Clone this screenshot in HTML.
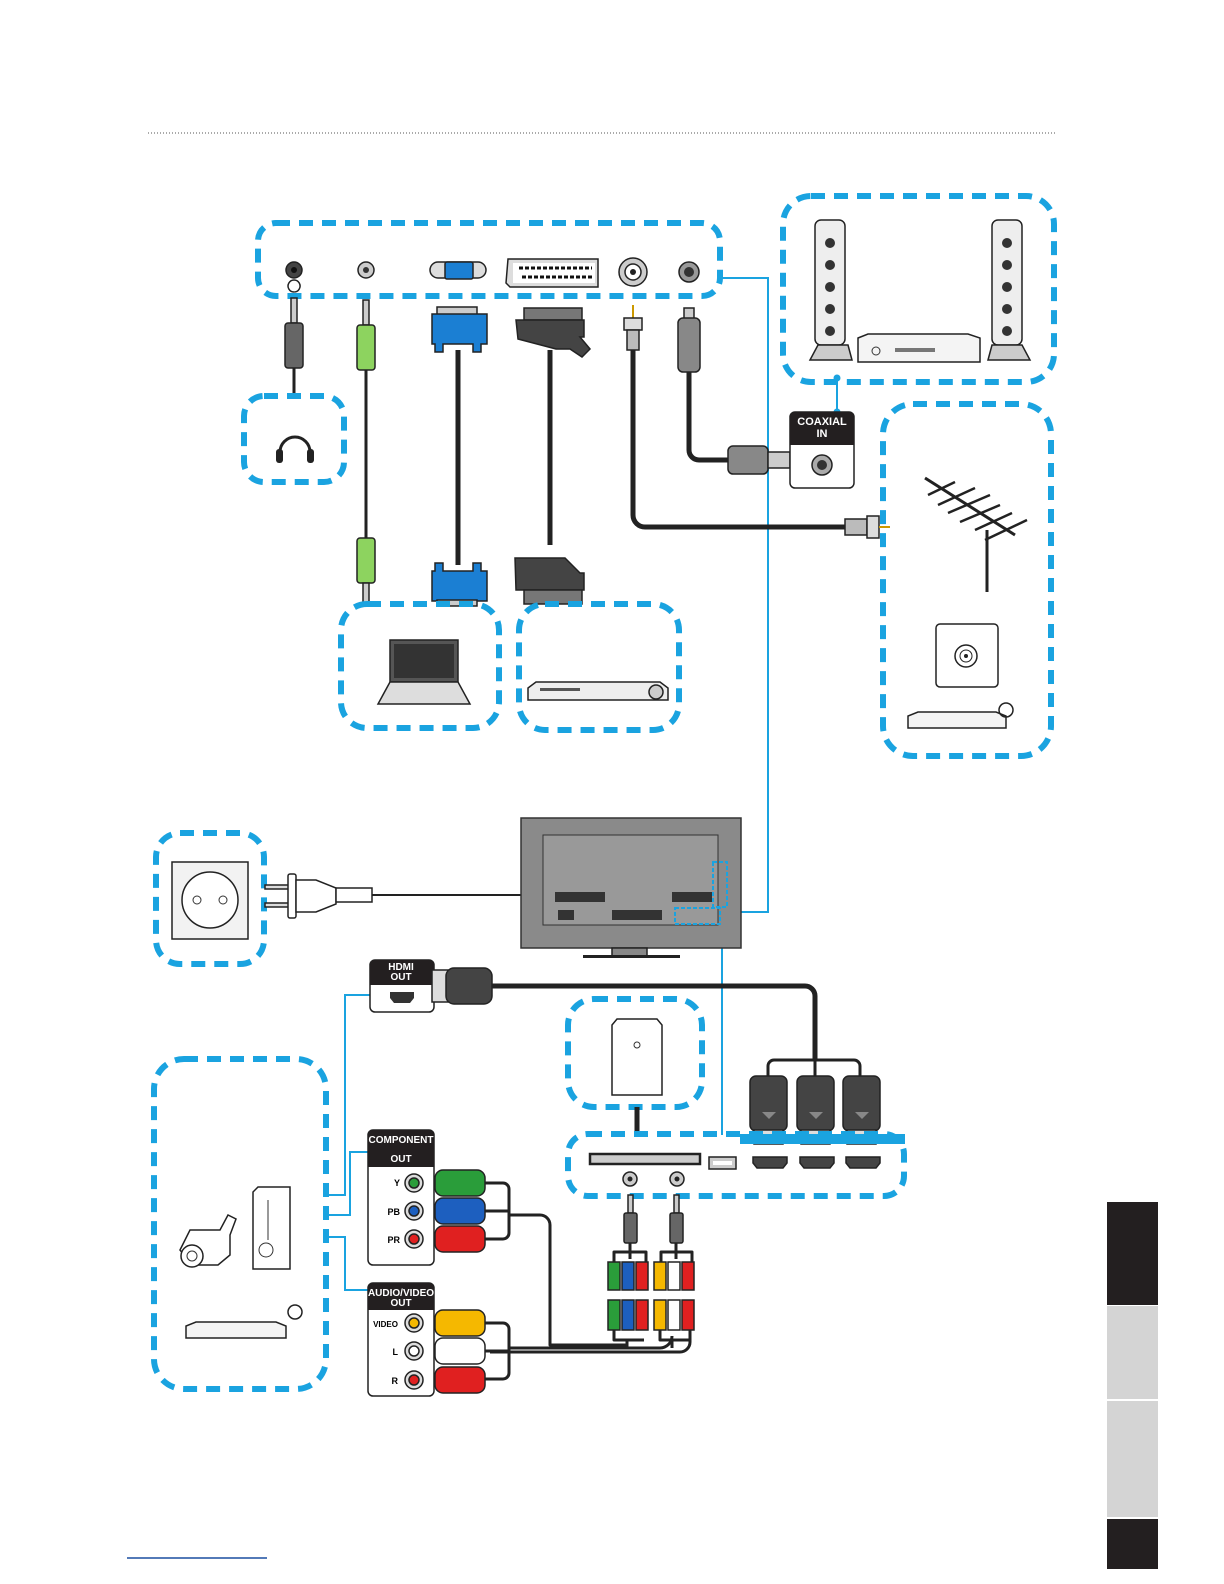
<!DOCTYPE html>
<html><head><meta charset="utf-8"><style>
html,body{margin:0;padding:0;background:#fff;overflow:hidden;width:1224px;height:1584px}
svg{display:block}
text{font-family:"Liberation Sans",sans-serif;font-weight:bold}
</style></head><body>
<svg width="1224" height="1584" viewBox="0 0 1224 1584" xmlns="http://www.w3.org/2000/svg">
<defs>
<style>
.db{fill:none;stroke:#1aa3e0;stroke-width:6;stroke-dasharray:14 9}
.bl{fill:none;stroke:#1aa3e0;stroke-width:2}
.cab{fill:none;stroke:#222;stroke-width:5;stroke-linejoin:round}
.thin{fill:none;stroke:#222;stroke-width:3;stroke-linejoin:round}
.ol{stroke:#222;stroke-width:1.5}
</style>
</defs>
<line x1="148" y1="133" x2="1055" y2="133" stroke="#555" stroke-width="1" stroke-dasharray="1 2"/>

<rect x="1107" y="1202" width="51" height="103" fill="#231f20"/>
<rect x="1107" y="1306" width="51" height="93" fill="#d4d4d4"/>
<rect x="1107" y="1401" width="51" height="116" fill="#d4d4d4"/>
<rect x="1107" y="1519" width="51" height="50" fill="#231f20"/>
<line x1="127" y1="1558" x2="267" y2="1558" stroke="#1a4fa0" stroke-width="1.5"/>

<polyline class="bl" points="720,278 768,278 768,912 728,912"/>
<line class="bl" x1="722" y1="912" x2="722" y2="1135"/>
<line class="bl" x1="837" y1="380" x2="837" y2="412"/>
<circle cx="837" cy="378" r="3.5" fill="#1aa3e0"/>
<circle cx="837" cy="412" r="3.5" fill="#1aa3e0"/>
<polyline class="bl" points="327,1195 345,1195 345,995 372,995"/>
<polyline class="bl" points="327,1215 350,1215 350,1152 370,1152"/>
<polyline class="bl" points="327,1237 345,1237 345,1290 372,1290"/>

<rect class="db" x="258" y="223" width="462" height="73" rx="18"/>
<circle cx="294" cy="270" r="8" fill="#444" class="ol"/><circle cx="294" cy="270" r="3" fill="#111"/>
<circle cx="366" cy="270" r="8" fill="#ccc" class="ol"/><circle cx="366" cy="270" r="3" fill="#333"/>
<path d="M430 270 a8 8 0 0 1 8-8 h40 a8 8 0 0 1 8 8 a8 8 0 0 1-8 8 h-40 a8 8 0 0 1-8-8z" fill="#ddd" class="ol"/>
<rect x="445" y="262" width="28" height="17" rx="2" fill="#1b7fd3" class="ol"/>
<path d="M508 259 h90 v28 h-88 l-4-4z" fill="#ddd" class="ol"/>
<rect x="513" y="263" width="82" height="20" fill="#fff"/>
<g stroke="#111" stroke-width="3" stroke-dasharray="4 2"><line x1="519" y1="268" x2="592" y2="268"/><line x1="522" y1="277" x2="592" y2="277"/></g>
<circle cx="633" cy="272" r="14" fill="#ccc" class="ol"/><circle cx="633" cy="272" r="8" fill="#fff" class="ol"/><circle cx="633" cy="272" r="3" fill="#222"/>
<circle cx="689" cy="272" r="10" fill="#999" class="ol"/><circle cx="689" cy="272" r="5" fill="#333"/>

<path d="M294 292 a6 6 0 1 1 0.1 0" fill="none" stroke="#222" stroke-width="1.5"/>
<rect x="291" y="298" width="6" height="25" fill="#ccc" class="ol"/>
<rect x="285" y="323" width="18" height="45" rx="3" fill="#666" class="ol"/>
<line class="thin" x1="294" y1="368" x2="294" y2="397"/>
<rect class="db" x="244" y="396" width="100" height="86" rx="20"/>
<path d="M280 460 v-8 a15 15 0 0 1 30 0 v8" fill="none" stroke="#222" stroke-width="3"/>
<rect x="276" y="449" width="7" height="14" rx="3" fill="#222"/><rect x="307" y="449" width="7" height="14" rx="3" fill="#222"/>

<rect x="363" y="300" width="6" height="25" fill="#ccc" class="ol"/>
<rect x="357" y="325" width="18" height="45" rx="3" fill="#8dd35f" class="ol"/>
<line class="thin" x1="366" y1="370" x2="366" y2="538"/>
<rect x="357" y="538" width="18" height="45" rx="3" fill="#8dd35f" class="ol"/>
<rect x="363" y="583" width="6" height="22" fill="#ccc" class="ol"/>

<rect x="437" y="307" width="40" height="8" fill="#ccc" class="ol"/>
<path d="M432 314 h55 v30 h-6 v8 h-8 v-8 h-30 v8 h-8 v-8 h-3z" fill="#1b7fd3" class="ol"/>
<line class="cab" x1="458" y1="350" x2="458" y2="565"/>
<path d="M432 601 h55 v-30 h-6 v-8 h-8 v8 h-30 v-8 h-8 v8 h-3z" fill="#1b7fd3" class="ol"/>
<rect x="437" y="600" width="40" height="6" fill="#ccc" class="ol"/>

<rect x="524" y="308" width="58" height="12" fill="#777" class="ol"/>
<path d="M516 320 h68 v17 h-4 l10 12 -8 8 -12 -8 h-14 l-38 -10z" fill="#444" class="ol"/>
<line class="cab" x1="550" y1="350" x2="550" y2="545"/>
<path d="M516 590 h68 v-17 h-4 l-15 -15 h-50 z" fill="#444" class="ol"/>
<rect x="524" y="590" width="58" height="14" fill="#777" class="ol"/>

<line x1="633" y1="305" x2="633" y2="318" stroke="#c90" stroke-width="2"/>
<rect x="624" y="318" width="18" height="12" fill="#ddd" class="ol"/>
<rect x="627" y="330" width="12" height="20" fill="#bbb" class="ol"/>
<path class="cab" d="M633 350 V515 a12 12 0 0 0 12 12 H845"/>
<rect x="845" y="519" width="22" height="16" fill="#bbb" class="ol"/>
<rect x="867" y="516" width="12" height="22" fill="#ddd" class="ol"/>
<line x1="879" y1="527" x2="890" y2="527" stroke="#c90" stroke-width="2"/>

<rect x="684" y="308" width="10" height="12" fill="#ccc" class="ol"/>
<rect x="678" y="318" width="22" height="54" rx="5" fill="#888" class="ol"/>
<path class="cab" d="M689 372 V450 a10 10 0 0 0 10 10 H730"/>
<rect x="728" y="446" width="40" height="28" rx="5" fill="#888" class="ol"/>
<rect x="768" y="452" width="22" height="16" fill="#ccc" class="ol"/>
<rect x="790" y="412" width="64" height="76" rx="5" fill="#fff" class="ol"/>
<path d="M790 417 a5 5 0 0 1 5-5 h54 a5 5 0 0 1 5 5 v28 h-64z" fill="#231f20"/>
<text x="822" y="425" font-size="11" fill="#fff" text-anchor="middle">COAXIAL</text>
<text x="822" y="437" font-size="11" fill="#fff" text-anchor="middle">IN</text>
<circle cx="822" cy="465" r="10" fill="#aaa" class="ol"/><circle cx="822" cy="465" r="5" fill="#333"/>

<rect class="db" x="783" y="196" width="271" height="186" rx="28"/>
<g>
<rect x="815" y="220" width="30" height="125" rx="6" fill="#eee" class="ol"/>
<g fill="#333"><circle cx="830" cy="243" r="5"/><circle cx="830" cy="265" r="5"/><circle cx="830" cy="287" r="5"/><circle cx="830" cy="309" r="5"/><circle cx="830" cy="331" r="5"/></g>
<path d="M810 360 l8-15 h30 l4 15z" fill="#ccc" class="ol"/>
<rect x="992" y="220" width="30" height="125" rx="6" fill="#eee" class="ol"/>
<g fill="#333"><circle cx="1007" cy="243" r="5"/><circle cx="1007" cy="265" r="5"/><circle cx="1007" cy="287" r="5"/><circle cx="1007" cy="309" r="5"/><circle cx="1007" cy="331" r="5"/></g>
<path d="M988 360 l4-15 h30 l8 15z" fill="#ccc" class="ol"/>
<path d="M858 338 l10-4 h100 l12 4 v24 h-122z" fill="#f4f4f4" class="ol"/>
<circle cx="876" cy="351" r="4" fill="none" stroke="#333"/>
<rect x="895" y="348" width="40" height="4" fill="#777"/>
</g>

<rect class="db" x="883" y="404" width="168" height="352" rx="30"/>
<line x1="925" y1="478" x2="1015" y2="535" stroke="#222" stroke-width="3"/>
<g stroke="#222" stroke-width="2.5">
<line x1="928" y1="495" x2="955" y2="482"/><line x1="938" y1="505" x2="975" y2="488"/><line x1="948" y1="513" x2="990" y2="495"/>
<line x1="960" y1="522" x2="1000" y2="505"/><line x1="975" y1="530" x2="1012" y2="513"/><line x1="985" y1="540" x2="1027" y2="520"/>
</g>
<line x1="987" y1="530" x2="987" y2="592" stroke="#222" stroke-width="3"/>
<rect x="936" y="624" width="62" height="63" rx="4" fill="#fff" class="ol"/>
<circle cx="966" cy="656" r="11" fill="none" stroke="#222" stroke-width="1.5"/><circle cx="966" cy="656" r="6" fill="none" stroke="#222"/><circle cx="966" cy="656" r="2" fill="#222"/>
<path d="M908 728 v-12 l10-4 h78 l10 4 v12z" fill="#f4f4f4" class="ol"/>
<circle cx="1006" cy="710" r="7" fill="none" stroke="#222" stroke-width="1.5"/>

<rect class="db" x="341" y="604" width="158" height="124" rx="26"/>
<path d="M390 640 h68 v42 h-68z" fill="#555" class="ol"/>
<rect x="394" y="644" width="60" height="34" fill="#333"/>
<path d="M390 682 h68 l12 22 h-92z" fill="#ddd" class="ol"/>
<rect class="db" x="519" y="604" width="160" height="126" rx="26"/>
<path d="M528 688 l8-6 h124 l8 6 v12 h-140z" fill="#eee" class="ol"/>
<circle cx="656" cy="692" r="7" fill="#ccc" class="ol"/>
<rect x="540" y="688" width="40" height="3" fill="#555"/>

<rect class="db" x="156" y="833" width="108" height="131" rx="24"/>
<rect x="172" y="862" width="76" height="77" fill="#f2f2f2" class="ol"/>
<circle cx="210" cy="900" r="28" fill="#fff" class="ol"/>
<circle cx="197" cy="900" r="4" fill="none" stroke="#333"/><circle cx="223" cy="900" r="4" fill="none" stroke="#333"/>
<rect x="265" y="885" width="25" height="4" fill="#ddd" class="ol"/><rect x="265" y="903" width="25" height="4" fill="#ddd" class="ol"/>
<rect x="288" y="874" width="8" height="44" rx="2" fill="#fff" class="ol"/>
<path d="M296 880 h20 l20 8 v16 l-20 8 h-20z" fill="#fff" class="ol"/>
<rect x="336" y="888" width="36" height="14" fill="#fff" class="ol"/>
<polyline points="372,895 600,895 600,913" fill="none" stroke="#222" stroke-width="2"/>
<circle cx="602" cy="913" r="3" fill="#222"/>

<rect x="521" y="818" width="220" height="130" fill="#8a8a8a" stroke="#333" stroke-width="1.5"/>
<rect x="543" y="835" width="175" height="90" fill="#999" stroke="#333" stroke-width="1"/>
<g fill="#333"><rect x="555" y="892" width="50" height="10"/><rect x="612" y="910" width="50" height="10"/><rect x="672" y="892" width="40" height="10"/><rect x="558" y="910" width="16" height="10"/></g>
<rect x="612" y="948" width="35" height="8" fill="#888" class="ol"/>
<rect x="583" y="955" width="97" height="3" fill="#222"/>
<rect x="713" y="862" width="14" height="45" fill="none" stroke="#1aa3e0" stroke-width="2" stroke-dasharray="4 2"/>
<rect x="675" y="908" width="45" height="16" fill="none" stroke="#1aa3e0" stroke-width="2" stroke-dasharray="4 2"/>

<rect x="370" y="960" width="64" height="52" rx="5" fill="#fff" class="ol"/>
<path d="M370 965 a5 5 0 0 1 5-5 h54 a5 5 0 0 1 5 5 v20 h-64z" fill="#231f20"/>
<text x="401" y="970" font-size="10" fill="#fff" text-anchor="middle">HDMI</text>
<text x="401" y="980" font-size="10" fill="#fff" text-anchor="middle">OUT</text>
<path d="M390 992 h24 v6 l-4 5 h-16 l-4-5z" fill="#333"/>
<rect x="432" y="970" width="16" height="32" fill="#ddd" class="ol"/>
<rect x="446" y="968" width="46" height="36" rx="8" fill="#444" class="ol"/>
<path class="cab" d="M492 986 H805 a10 10 0 0 1 10 10 V1060"/>
<path class="thin" d="M768 1078 v-12 a6 6 0 0 1 6-6 h80 a6 6 0 0 1 6 6 v12"/>
<line class="thin" x1="815" y1="1060" x2="815" y2="1078"/>
<g>
<rect x="750" y="1076" width="37" height="55" rx="6" fill="#444" class="ol"/><rect x="754" y="1130" width="29" height="14" fill="#ddd" class="ol"/><path d="M762 1112 h14 l-7 7z" fill="#888"/>
<rect x="797" y="1076" width="37" height="55" rx="6" fill="#444" class="ol"/><rect x="801" y="1130" width="29" height="14" fill="#ddd" class="ol"/><path d="M809 1112 h14 l-7 7z" fill="#888"/>
<rect x="843" y="1076" width="37" height="55" rx="6" fill="#444" class="ol"/><rect x="847" y="1130" width="29" height="14" fill="#ddd" class="ol"/><path d="M855 1112 h14 l-7 7z" fill="#888"/>
</g>

<rect class="db" x="568" y="999" width="134" height="108" rx="26"/>
<path d="M612 1025 l5-6 h40 l5 6 v70 h-50z" fill="#fff" class="ol"/>
<circle cx="637" cy="1045" r="3" fill="none" stroke="#333"/>
<line class="cab" x1="637" y1="1107" x2="637" y2="1137"/>

<rect x="740" y="1134" width="165" height="10" fill="#1aa3e0"/>
<rect class="db" x="568" y="1134" width="336" height="62" rx="20"/>
<rect x="590" y="1154" width="110" height="10" fill="#ccc" stroke="#222" stroke-width="2.5"/>
<circle cx="630" cy="1179" r="7" fill="#ccc" class="ol"/><circle cx="630" cy="1179" r="2.5" fill="#222"/>
<circle cx="677" cy="1179" r="7" fill="#ccc" class="ol"/><circle cx="677" cy="1179" r="2.5" fill="#222"/>
<rect x="709" y="1157" width="27" height="12" fill="#ccc" class="ol"/><rect x="713" y="1161" width="19" height="4" fill="#fff"/>
<path d="M753 1157 h34 v6 l-4 5 h-26 l-4-5z" fill="#444" class="ol"/>
<path d="M800 1157 h34 v6 l-4 5 h-26 l-4-5z" fill="#444" class="ol"/>
<path d="M846 1157 h34 v6 l-4 5 h-26 l-4-5z" fill="#444" class="ol"/>

<g>
<rect x="628" y="1195" width="5" height="18" fill="#ccc" class="ol"/><rect x="624" y="1213" width="13" height="30" rx="2" fill="#666" class="ol"/>
<rect x="674" y="1195" width="5" height="18" fill="#ccc" class="ol"/><rect x="670" y="1213" width="13" height="30" rx="2" fill="#666" class="ol"/>
<path class="thin" d="M630 1243 v6 M614 1262 v-10 h32 v10 M630 1249 v10" stroke-width="2"/>
<path class="thin" d="M676 1243 v6 M661 1262 v-10 h31 v10 M676 1249 v10" stroke-width="2"/>
<g class="ol">
<rect x="608" y="1262" width="12" height="28" fill="#2a9d3a"/><rect x="622" y="1262" width="12" height="28" fill="#1d5fbf"/><rect x="636" y="1262" width="12" height="28" fill="#e02020"/>
<rect x="654" y="1262" width="12" height="28" fill="#f5b800"/><rect x="668" y="1262" width="12" height="28" fill="#fff"/><rect x="682" y="1262" width="12" height="28" fill="#e02020"/>
<rect x="608" y="1300" width="12" height="30" fill="#2a9d3a"/><rect x="622" y="1300" width="12" height="30" fill="#1d5fbf"/><rect x="636" y="1300" width="12" height="30" fill="#e02020"/>
<rect x="654" y="1300" width="12" height="30" fill="#f5b800"/><rect x="668" y="1300" width="12" height="30" fill="#fff"/><rect x="682" y="1300" width="12" height="30" fill="#e02020"/>
</g>
</g>
<path class="thin" d="M614 1330 v10 h30 M627 1340 v8 M660 1330 v10 h30 M672 1340 v8"/>
<path class="thin" d="M510 1215 H540 a10 10 0 0 1 10 10 V1345 H627 V1340"/>
<path class="thin" d="M510 1348 H660 a12 12 0 0 0 12-12"/>
<path class="thin" d="M490 1352 H680 a10 10 0 0 0 10-10 V1330"/>

<rect x="368" y="1130" width="66" height="135" rx="5" fill="#fff" class="ol"/>
<path d="M368 1135 a5 5 0 0 1 5-5 h56 a5 5 0 0 1 5 5 v32 h-66z" fill="#231f20"/>
<text x="401" y="1143" font-size="10" fill="#fff" text-anchor="middle">COMPONENT</text>
<text x="401" y="1162" font-size="10" fill="#fff" text-anchor="middle">OUT</text>
<text x="400" y="1186" font-size="9" text-anchor="end">Y</text>
<text x="400" y="1215" font-size="9" text-anchor="end">PB</text>
<text x="400" y="1243" font-size="9" text-anchor="end">PR</text>
<g class="ol">
<circle cx="414" cy="1183" r="9" fill="#ddd"/><circle cx="414" cy="1183" r="5" fill="#2a9d3a"/>
<circle cx="414" cy="1211" r="9" fill="#ddd"/><circle cx="414" cy="1211" r="5" fill="#1d5fbf"/>
<circle cx="414" cy="1239" r="9" fill="#ddd"/><circle cx="414" cy="1239" r="5" fill="#e02020"/>
<rect x="435" y="1170" width="50" height="26" rx="8" fill="#2a9d3a"/>
<rect x="435" y="1198" width="50" height="26" rx="8" fill="#1d5fbf"/>
<rect x="435" y="1226" width="50" height="26" rx="8" fill="#e02020"/>
</g>
<path class="thin" d="M485 1183 h18 a6 6 0 0 1 6 6 v44 a6 6 0 0 1-6 6 h-18 M485 1211 h25"/>

<rect x="368" y="1283" width="66" height="113" rx="5" fill="#fff" class="ol"/>
<path d="M368 1288 a5 5 0 0 1 5-5 h56 a5 5 0 0 1 5 5 v22 h-66z" fill="#231f20"/>
<text x="401" y="1296" font-size="10" fill="#fff" text-anchor="middle">AUDIO/VIDEO</text>
<text x="401" y="1306" font-size="10" fill="#fff" text-anchor="middle">OUT</text>
<text x="398" y="1327" font-size="8" text-anchor="end">VIDEO</text>
<text x="398" y="1355" font-size="9" text-anchor="end">L</text>
<text x="398" y="1384" font-size="9" text-anchor="end">R</text>
<g class="ol">
<circle cx="414" cy="1323" r="9" fill="#ddd"/><circle cx="414" cy="1323" r="5" fill="#f5b800"/>
<circle cx="414" cy="1351" r="9" fill="#ddd"/><circle cx="414" cy="1351" r="5" fill="#fff"/>
<circle cx="414" cy="1380" r="9" fill="#ddd"/><circle cx="414" cy="1380" r="5" fill="#e02020"/>
<rect x="435" y="1310" width="50" height="26" rx="8" fill="#f5b800"/>
<rect x="435" y="1338" width="50" height="26" rx="8" fill="#fff"/>
<rect x="435" y="1367" width="50" height="26" rx="8" fill="#e02020"/>
</g>
<path class="thin" d="M485 1323 h18 a6 6 0 0 1 6 6 v44 a6 6 0 0 1-6 6 h-18 M485 1351 h25"/>

<rect class="db" x="154" y="1059" width="172" height="330" rx="30"/>
<path d="M253 1192 l5-5 h32 v82 h-37z" fill="#fff" class="ol"/>
<circle cx="266" cy="1250" r="7" fill="none" stroke="#333"/>
<line x1="268" y1="1200" x2="268" y2="1240" stroke="#333"/>
<path d="M180 1250 l10-20 h30 l8 -15 8 4 -6 16 v20 l-12 10 h-26z" fill="#fff" class="ol"/>
<circle cx="192" cy="1256" r="11" fill="#fff" class="ol"/><circle cx="192" cy="1256" r="5" fill="none" stroke="#333"/>
<path d="M186 1338 v-12 l10-4 h80 l10 4 v12z" fill="#f4f4f4" class="ol"/>
<circle cx="295" cy="1312" r="7" fill="none" stroke="#222" stroke-width="1.5"/>
</svg>
</body></html>
